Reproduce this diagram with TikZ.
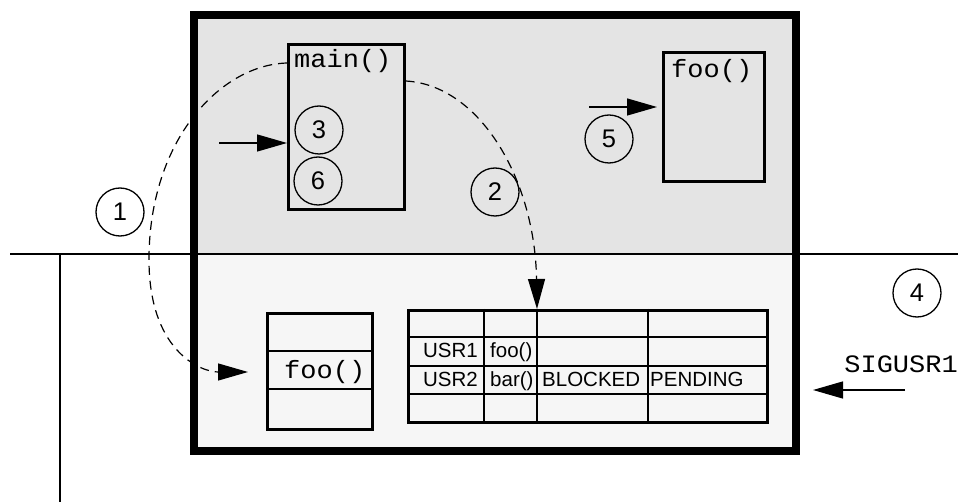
\documentclass[tikz,border=0pt]{standalone}
\usepackage{fontspec}
\setmainfont{Liberation Sans}
\newfontfamily\monof[FakeStretch=1.08]{Liberation Mono}
\usetikzlibrary{arrows.meta}
\definecolor{topgray}{RGB}{228,228,228}
\definecolor{botgray}{RGB}{246,246,246}
\begin{document}
\begin{tikzpicture}[x=1pt,y=-1pt,
  frame/.style={draw=black, line width=2.6pt, inner sep=0pt, anchor=north west},
  num/.style={circle, draw, line width=1.3pt, minimum size=48pt, inner sep=0pt, font=\fontsize{25.5}{26}\selectfont},
  mono/.style={inner sep=0pt, anchor=base west, font=\fontsize{25}{25}\monof},
  cell/.style={inner sep=0pt, anchor=base west, font=\fontsize{20.5}{20.5}\selectfont},
  arr/.style={line width=1.3pt, -{Triangle[length=30pt,width=17pt]}},
  darr/.style={line width=1.2pt, dash pattern=on 9pt off 6pt, -{Triangle[length=30pt,width=17pt]}},
  rule/.style={line width=2.6pt}
]
\useasboundingbox (0,0) rectangle (958,502);
\fill[white] (0,0) rectangle (958,502);
\fill[topgray] (190,11) rectangle (792,254);
\fill[botgray] (190,254) rectangle (792,447);
\draw[line width=2.5pt] (10,254) -- (958,254);
\draw[line width=2.5pt] (60,254) -- (60,502);
\node[draw=black, line width=8pt, inner sep=0pt, anchor=north west, minimum width=602pt, minimum height=436pt] (outer) at (190,11) {};

% upper boxes
\node[frame, minimum width=116pt, minimum height=165pt] (mainbox) at (287,43) {};
\node[mono] (maintxt) at (294,68) {main()};
\node[frame, minimum width=101pt, minimum height=129pt] (foobox) at (662,51) {};
\node[mono] (footxt) at (671,78) {foo()};

% stack
\node[frame, minimum width=105pt, minimum height=116pt] (stack) at (266,312) {};
\draw[rule] (266,351) -- (371,351);
\draw[rule] (266,389) -- (371,389);
\node[mono] (stacktxt) at (284,378) {foo()};

% table
\node[frame, minimum width=359pt, minimum height=112pt] (tbl) at (407,309) {};
\draw[rule] (407,337) -- (766,337);
\draw[rule] (407,366) -- (766,366);
\draw[rule] (407,394) -- (766,394);
\draw[rule] (484,309) -- (484,421);
\draw[rule] (537,309) -- (537,421);
\draw[rule] (648,309) -- (648,421);
\node[cell, anchor=base east] (usr1) at (478,357) {USR1};
\node[cell] (h1) at (490,357) {foo()};
\node[cell, anchor=base east] (usr2) at (478,386) {USR2};
\node[cell] (h2) at (490,386) {bar()};
\node[cell] (blk) at (542,386) {BLOCKED};
\node[cell] (pend) at (650,386) {PENDING};

% numbered circles
\node[num] (n1) at (120,212) {1};
\node[num] (n2) at (495,192) {2};
\node[num] (n3) at (319,130) {3};
\node[num] (n4) at (917,293) {4};
\node[num] (n5) at (609,139) {5};
\node[num] (n6) at (318,181) {6};

% arrows
\coordinate (a3s) at (219,143);
\draw[arr] (a3s) -- (a3s -| mainbox.west);
\coordinate (a5s) at (589,107);
\draw[arr] (a5s) -- ([xshift=-5pt]a5s -| foobox.west);
\node[mono, anchor=base east] (sig) at (958,373) {SIGUSR1};
\coordinate (sigs) at (905,390);
\draw[arr] (sigs) -- ([xshift=13pt]sigs -| outer.east);

% dashed curves
\coordinate (c1e) at (248,372);
\draw[darr] ([yshift=-20pt]mainbox.north west) .. controls (220,65) and (150,140) .. (149,257)
   .. controls (148,350) and (200,372) .. (c1e);
\coordinate (c2e) at (537,309);
\draw[darr] ([yshift=-38pt]mainbox.north east) .. controls (480,85) and (535,180) .. (c2e);
\end{tikzpicture}
\end{document}
